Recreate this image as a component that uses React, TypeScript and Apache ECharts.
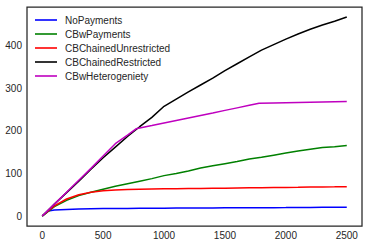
import React, { useEffect, useRef } from "react";
import * as echarts from "echarts";

const xs = [0, 50, 100, 200, 300, 400, 500, 600, 700, 800, 900, 1000, 1100, 1200, 1300, 1400, 1500, 1600, 1700, 1800, 1900, 2000, 2100, 2200, 2300, 2400, 2500];
const noPayments = [0, 12, 14, 15.5, 16.5, 17, 17.5, 17.8, 18, 18.2, 18.4, 18.6, 18.8, 19, 19.1, 19.2, 19.3, 19.4, 19.5, 19.6, 19.7, 19.8, 20, 20.2, 20.4, 20.6, 20.8];
const cbwPayments = [0, 11, 22, 37, 48, 56, 63, 70, 76, 82, 88, 95, 100, 106, 113, 118, 123, 128, 134, 138, 143, 148, 153, 157, 161, 163, 166];
const cbChainedUnrestricted = [0, 12, 24, 40, 50, 56, 59.5, 61.5, 62.5, 63, 63.5, 64, 64.3, 64.6, 65, 65.3, 65.6, 66, 66.3, 66.6, 67, 67.3, 67.6, 68, 68.3, 68.6, 69];
const cbChainedRestricted = [0, 14, 28, 55, 82, 110, 137, 162, 187, 210, 232, 258, 275, 292, 308, 324, 342, 358, 374, 390, 403, 416, 428, 439, 449, 458, 468];
const xsHetero = [0, 50, 100, 200, 300, 400, 500, 600, 700, 770, 900, 1000, 1100, 1200, 1300, 1400, 1500, 1600, 1700, 1780, 1900, 2000, 2100, 2200, 2300, 2400, 2500];
const cbwHeterogeneity = [0, 14, 28, 56, 84, 112, 141, 170, 190, 205, 212.7, 218.7, 224.6, 230.5, 236.5, 242.4, 248.4, 254.3, 260.2, 265, 265.7, 266.3, 266.9, 267.4, 268, 268.5, 269];

const xTicks = [0, 500, 1000, 1500, 2000, 2500];
const yTicks = [0, 100, 200, 300, 400];

const seriesNames = ["NoPayments", "CBwPayments", "CBChainedUnrestricted", "CBChainedRestricted", "CBwHeterogeniety"];
const seriesColors = ["#0000ff", "#008000", "#ff0000", "#000000", "#bf00bf"];

function pairs(x: number[], y: number[]) {
  return x.map((v, i) => [v, y[i]]);
}

export default function App() {
  const ref = useRef<HTMLDivElement>(null);
  useEffect(() => {
    if (!ref.current) return;
    const chart = echarts.init(ref.current, null, { renderer: "svg" });
    const datas = [
      pairs(xs, noPayments),
      pairs(xs, cbwPayments),
      pairs(xs, cbChainedUnrestricted),
      pairs(xs, cbChainedRestricted),
      pairs(xsHetero, cbwHeterogeneity),
    ];
    const font = "Liberation Sans, Arial, sans-serif";
    chart.setOption({
      animation: false,
      backgroundColor: "#ffffff",
      grid: {
        left: 27,
        right: 7,
        top: 7,
        bottom: 18,
        show: true,
        borderColor: "#262626",
        borderWidth: 1.25,
        backgroundColor: "transparent",
      },
      legend: {
        orient: "vertical",
        left: 35,
        top: 13,
        padding: 0,
        icon: "rect",
        itemWidth: 22,
        itemHeight: 1.6,
        itemGap: 0,
        data: seriesNames,
        textStyle: { fontFamily: font, fontSize: 10, lineHeight: 14, color: "#262626", padding: [0, 0, 0, 3] },
      },
      xAxis: {
        type: "value",
        min: -125,
        max: 2625,
        axisLine: { show: false },
        axisTick: { show: false },
        splitLine: { show: false },
        axisLabel: {
          customValues: xTicks,
          formatter: (v: number) => String(v),
          fontFamily: font,
          fontSize: 10,
          color: "#262626",
          margin: 4,
        },
      },
      yAxis: {
        type: "value",
        min: -23.4,
        max: 491.4,
        axisLine: { show: false },
        axisTick: { show: false },
        splitLine: { show: false },
        axisLabel: {
          customValues: yTicks,
          formatter: (v: number) => String(v),
          fontFamily: font,
          fontSize: 10,
          color: "#262626",
          margin: 5,
        },
      },
      series: seriesNames.map((name, i) => ({
        name,
        type: "line",
        data: datas[i],
        symbol: "none",
        color: seriesColors[i],
        lineStyle: { width: 1.5, color: seriesColors[i] },
        z: 2 + (i === 4 ? 1 : 0),
      })),
    });
    return () => chart.dispose();
  }, []);
  return (
    <div
      ref={ref}
      style={{ position: "fixed", left: 0, top: 0, width: 369, height: 244 }}
    />
  );
}
